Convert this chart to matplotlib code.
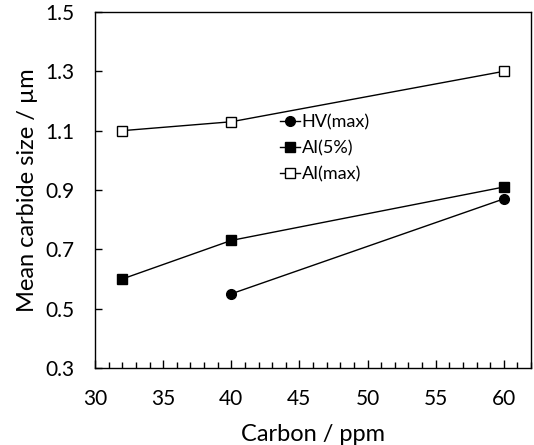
import matplotlib
matplotlib.use("Agg")
import matplotlib.pyplot as plt
from matplotlib.ticker import MultipleLocator

plt.rcParams['font.family'] = ['Lato', 'DejaVu Sans']

hv_x = [40, 60]
hv_y = [0.55, 0.87]
ai5_x = [32, 40, 60]
ai5_y = [0.60, 0.73, 0.91]
aimax_x = [32, 40, 60]
aimax_y = [1.10, 1.13, 1.30]

fig = plt.figure(figsize=(5.34, 4.45), dpi=100)
ax = fig.add_axes([95/534, 1-368/445, 436/534, 356/445])

ax.plot(hv_x, hv_y, '-o', color='black', lw=1, ms=7, mfc='black', label='HV(max)')
ax.plot(ai5_x, ai5_y, '-s', color='black', lw=1, ms=7, mfc='black', label='AI(5%)')
ax.plot(aimax_x, aimax_y, '-s', color='black', lw=1, ms=7, mfc='white', mew=1, label='AI(max)')

ax.set_xlim(30, 62)
ax.set_ylim(0.3, 1.5)
ax.set_xticks([30, 35, 40, 45, 50, 55, 60])
ax.xaxis.set_minor_locator(MultipleLocator(1))
ax.set_yticks([0.3, 0.5, 0.7, 0.9, 1.1, 1.3, 1.5])
ax.set_yticklabels(['0.3', '0.5', '0.7', '0.9', '1.1', '1.3', '1.5'])
ax.tick_params(axis='both', which='major', direction='in', length=5, width=1, labelsize=15, pad=15)
ax.tick_params(axis='x', which='major', length=6)
ax.tick_params(axis='x', which='minor', direction='in', length=4, width=1)
ax.tick_params(axis='y', which='minor', left=False)
for s in ax.spines.values():
    s.set_linewidth(1)

ax.set_xlabel('Carbon / ppm', fontsize=17, labelpad=11)
ax.set_ylabel('Mean carbide size / µm', fontsize=17, labelpad=5)

ax.legend(loc='upper left', bbox_to_anchor=(0.424, 0.712), frameon=False, fontsize=13,
          handlelength=1.1, handletextpad=0.1, labelspacing=0.55, borderaxespad=0, borderpad=0)

fig.savefig('out.png', dpi=100)
